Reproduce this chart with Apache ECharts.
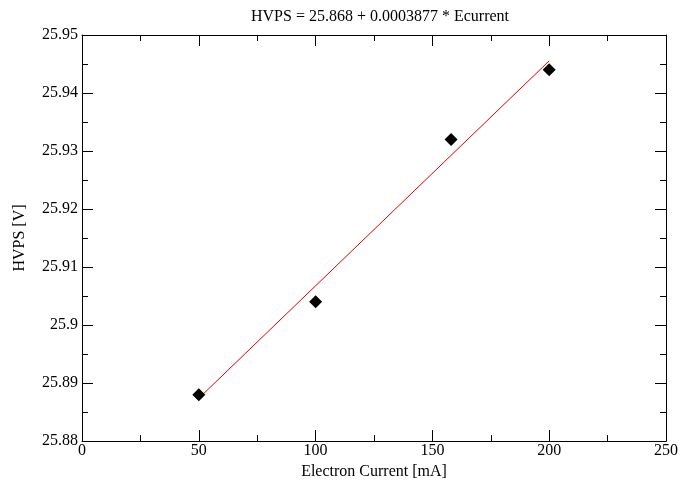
<!DOCTYPE html>
<html>
<head>
<meta charset="utf-8">
<script src="https://cdn.jsdelivr.net/npm/echarts@6/dist/echarts.min.js"></script>
<style>
  html, body { margin: 0; padding: 0; background: #fff; }
  #chart { width: 681px; height: 485px; }
</style>
</head>
<body>
<div id="chart"></div>
<script>
// Measured HVPS readings against electron current
const currents = [50, 100, 158, 200];
const hvps = [25.888, 25.904, 25.932, 25.944];

// Linear fit coefficients and the current range it spans
const fitIntercept = 25.868;
const fitSlope = 0.0003877;
const fitRange = [50, 200];

const titleText = 'HVPS = ' + fitIntercept + ' + ' + fitSlope + ' * Ecurrent';
const xName = 'Electron Current [mA]';
const yName = 'HVPS [V]';

const points = currents.map((c, i) => [c, hvps[i]]);
const fitLine = fitRange.map(c => [c, fitIntercept + fitSlope * c]);

const font = 'Liberation Serif';
const ink = '#000';
const fs = 16;

function frameAxis(extra) {
  return Object.assign({
    axisLine: { show: true, onZero: false, lineStyle: { color: ink, width: 1 } },
    axisTick: { show: true, inside: true, length: 11, lineStyle: { color: ink } },
    minorTick: { show: true, splitNumber: 2, length: 6, lineStyle: { color: ink } },
    splitLine: { show: false },
    minorSplitLine: { show: false }
  }, extra);
}

const chart = echarts.init(document.getElementById('chart'), null, { renderer: 'canvas' });
chart.setOption({
  animation: false,
  backgroundColor: '#fff',
  title: {
    text: titleText,
    left: 375, top: 4, textAlign: 'center',
    textStyle: { fontFamily: font, fontSize: fs, fontWeight: 'normal', color: ink }
  },
  grid: { left: 82, right: 14, top: 35, bottom: 38 },
  xAxis: [
    frameAxis({
      type: 'value', min: 0, max: 250, interval: 50, position: 'bottom',
      name: xName, nameLocation: 'middle', nameGap: 21,
      nameTextStyle: { fontFamily: font, fontSize: fs, color: ink },
      axisLabel: { fontFamily: font, fontSize: fs, color: ink, margin: 2 }
    }),
    frameAxis({
      type: 'value', min: 0, max: 250, interval: 50, position: 'top',
      axisLabel: { show: false }
    })
  ],
  yAxis: [
    frameAxis({
      type: 'value', min: 25.88, max: 25.95, interval: 0.01, position: 'left',
      name: yName, nameLocation: 'middle', nameGap: 54, nameRotate: 90,
      nameTextStyle: { fontFamily: font, fontSize: fs, color: ink },
      axisLabel: { fontFamily: font, fontSize: fs, color: ink, margin: 4 }
    }),
    frameAxis({
      type: 'value', min: 25.88, max: 25.95, interval: 0.01, position: 'right',
      axisLabel: { show: false }
    })
  ],
  series: [
    {
      name: 'fit', type: 'line', data: fitLine,
      showSymbol: false, symbol: 'none',
      lineStyle: { color: '#e00000', width: 1 },
      z: 2
    },
    {
      name: 'HVPS', type: 'scatter', data: points,
      symbol: 'diamond', symbolSize: 13,
      itemStyle: { color: '#000', opacity: 1 },
      z: 3
    }
  ]
});
</script>
</body>
</html>
